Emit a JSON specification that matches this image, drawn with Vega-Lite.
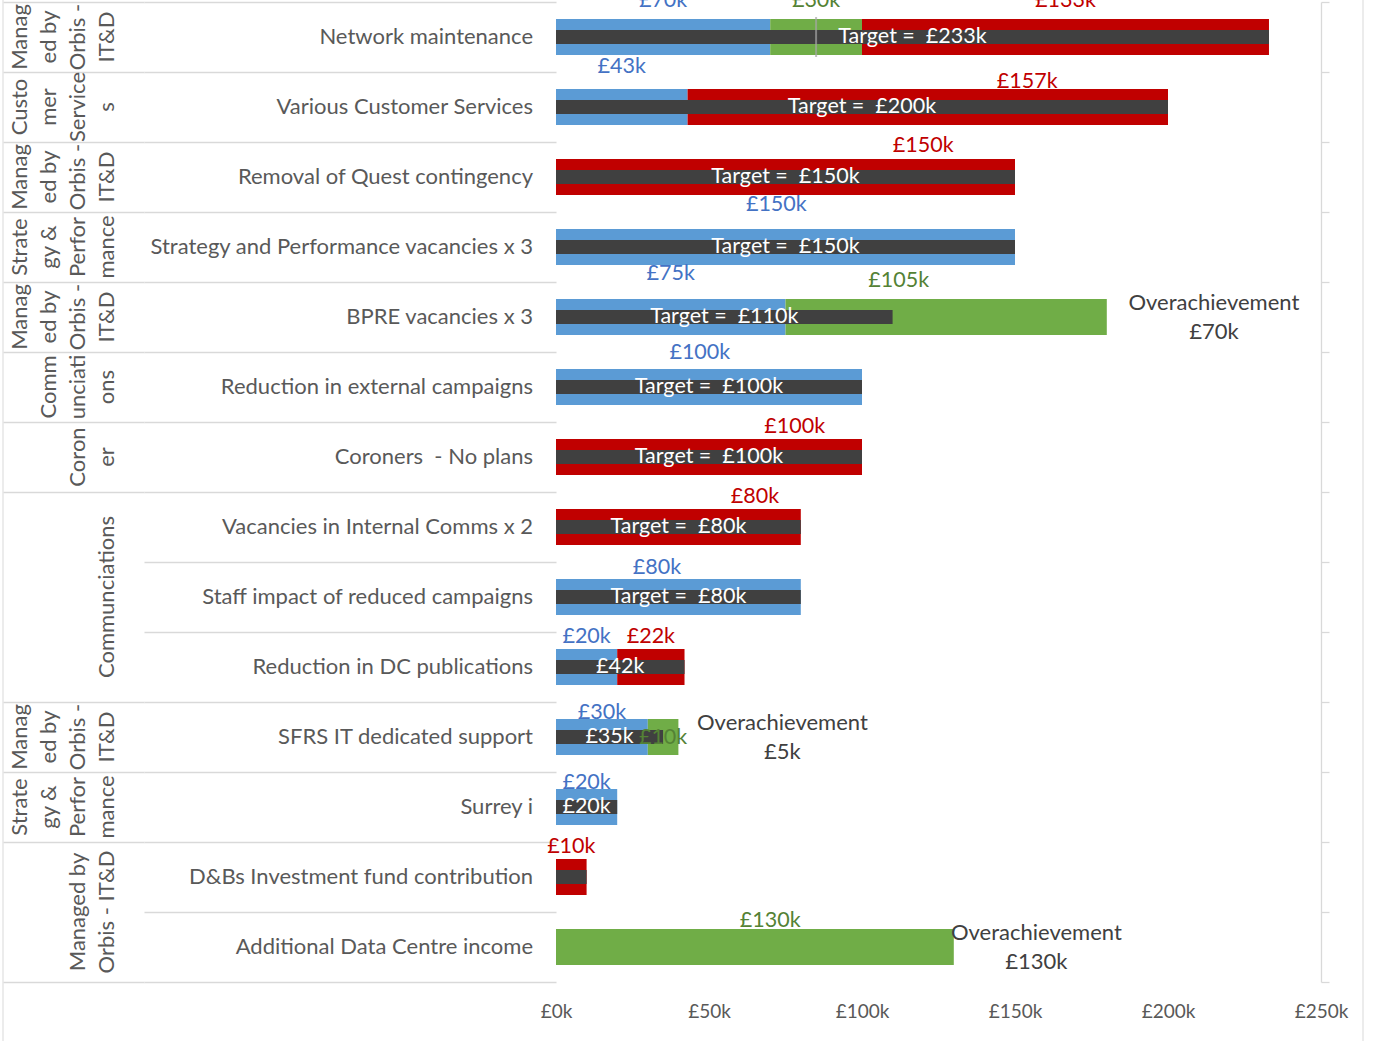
{
  "$schema": "https://vega.github.io/schema/vega-lite/v6.json",
  "autosize": {"type": "pad"},
  "padding": {"left": 2, "top": -19, "right": 0, "bottom": 0},
  "bounds": "flush",
  "spacing": 0,
  "background": "white",
  "datasets": {
    "items": [
      {"row": 1, "item": "Network maintenance", "gid": "g1", "glabel": "Manag\ned by\nOrbis -\nIT&D", "lines": 4},
      {"row": 2, "item": "Various Customer Services", "gid": "g2", "glabel": "Custo\nmer\nService\ns", "lines": 4},
      {"row": 3, "item": "Removal of Quest contingency", "gid": "g3", "glabel": "Manag\ned by\nOrbis -\nIT&D", "lines": 4},
      {"row": 4, "item": "Strategy and Performance vacancies x 3", "gid": "g4", "glabel": "Strate\ngy &\nPerfor\nmance", "lines": 4},
      {"row": 5, "item": "BPRE vacancies x 3", "gid": "g5", "glabel": "Manag\ned by\nOrbis -\nIT&D", "lines": 4},
      {"row": 6, "item": "Reduction in external campaigns", "gid": "g6", "glabel": "Comm\nunciati\nons", "lines": 3},
      {"row": 7, "item": "Coroners\u00a0 - No plans", "gid": "g7", "glabel": "Coron\ner", "lines": 2},
      {"row": 8, "item": "Vacancies in Internal Comms x 2", "gid": "g8", "glabel": "Communciations", "lines": 1},
      {"row": 9, "item": "Staff impact of reduced campaigns", "gid": "g8", "glabel": "Communciations", "lines": 1},
      {"row": 10, "item": "Reduction in DC publications", "gid": "g8", "glabel": "Communciations", "lines": 1},
      {"row": 11, "item": "SFRS IT dedicated support", "gid": "g9", "glabel": "Manag\ned by\nOrbis -\nIT&D", "lines": 4},
      {"row": 12, "item": "Surrey i", "gid": "g10", "glabel": "Strate\ngy &\nPerfor\nmance", "lines": 4},
      {"row": 13, "item": "D&Bs Investment fund contribution", "gid": "g11", "glabel": "Managed by\nOrbis - IT&D", "lines": 2},
      {"row": 14, "item": "Additional Data Centre income", "gid": "g11", "glabel": "Managed by\nOrbis - IT&D", "lines": 2}
    ],
    "segments": [
      {"row": 1, "series": "Achieved", "value": 70},
      {"row": 1, "series": "Exceeded", "value": 30},
      {"row": 1, "series": "Shortfall", "value": 133},
      {"row": 2, "series": "Achieved", "value": 43},
      {"row": 2, "series": "Shortfall", "value": 157},
      {"row": 3, "series": "Shortfall", "value": 150},
      {"row": 4, "series": "Achieved", "value": 150},
      {"row": 5, "series": "Achieved", "value": 75},
      {"row": 5, "series": "Exceeded", "value": 105},
      {"row": 6, "series": "Achieved", "value": 100},
      {"row": 7, "series": "Shortfall", "value": 100},
      {"row": 8, "series": "Shortfall", "value": 80},
      {"row": 9, "series": "Achieved", "value": 80},
      {"row": 10, "series": "Achieved", "value": 20},
      {"row": 10, "series": "Shortfall", "value": 22},
      {"row": 11, "series": "Achieved", "value": 30},
      {"row": 11, "series": "Exceeded", "value": 10},
      {"row": 12, "series": "Achieved", "value": 20},
      {"row": 13, "series": "Shortfall", "value": 10},
      {"row": 14, "series": "Exceeded", "value": 130}
    ],
    "targets": [
      {"row": 1, "target": 233, "text": "Target = \u00a0£233k"},
      {"row": 2, "target": 200, "text": "Target = \u00a0£200k"},
      {"row": 3, "target": 150, "text": "Target = \u00a0£150k"},
      {"row": 4, "target": 150, "text": "Target = \u00a0£150k"},
      {"row": 5, "target": 110, "text": "Target = \u00a0£110k"},
      {"row": 6, "target": 100, "text": "Target = \u00a0£100k"},
      {"row": 7, "target": 100, "text": "Target = \u00a0£100k"},
      {"row": 8, "target": 80, "text": "Target = \u00a0£80k"},
      {"row": 9, "target": 80, "text": "Target = \u00a0£80k"},
      {"row": 10, "target": 42, "text": "£42k"},
      {"row": 11, "target": 35, "text": "£35k"},
      {"row": 12, "target": 20, "text": "£20k"},
      {"row": 13, "target": 10, "text": ""}
    ],
    "marker": [
      {"row": 1, "value": 85}
    ],
    "labels": [
      {"row": 1, "series": "Achieved", "text": "£70k", "lx": 35, "ly": 0.49},
      {"row": 1, "series": "Exceeded", "text": "£30k", "lx": 85, "ly": 0.49},
      {"row": 1, "series": "Shortfall", "text": "£133k", "lx": 166.5, "ly": 0.49},
      {"row": 2, "series": "Achieved", "text": "£43k", "lx": 21.5, "ly": 1.43},
      {"row": 2, "series": "Shortfall", "text": "£157k", "lx": 154, "ly": 1.64},
      {"row": 3, "series": "Shortfall", "text": "£150k", "lx": 120, "ly": 2.56},
      {"row": 4, "series": "Achieved", "text": "£150k", "lx": 72, "ly": 3.4},
      {"row": 5, "series": "Achieved", "text": "£75k", "lx": 37.5, "ly": 4.39},
      {"row": 5, "series": "Exceeded", "text": "£105k", "lx": 112, "ly": 4.49},
      {"row": 6, "series": "Achieved", "text": "£100k", "lx": 47, "ly": 5.51},
      {"row": 7, "series": "Shortfall", "text": "£100k", "lx": 78, "ly": 6.57},
      {"row": 8, "series": "Shortfall", "text": "£80k", "lx": 65, "ly": 7.57},
      {"row": 9, "series": "Achieved", "text": "£80k", "lx": 33, "ly": 8.59},
      {"row": 10, "series": "Achieved", "text": "£20k", "lx": 10, "ly": 9.57},
      {"row": 10, "series": "Shortfall", "text": "£22k", "lx": 31, "ly": 9.57},
      {"row": 11, "series": "Achieved", "text": "£30k", "lx": 15, "ly": 10.66},
      {"row": 11, "series": "Exceeded", "text": "£10k", "lx": 35, "ly": 11.01},
      {"row": 12, "series": "Achieved", "text": "£20k", "lx": 10, "ly": 11.66},
      {"row": 13, "series": "Shortfall", "text": "£10k", "lx": 5, "ly": 12.57},
      {"row": 14, "series": "Exceeded", "text": "£130k", "lx": 70, "ly": 13.63}
    ],
    "notes": [
      {"row": 5, "text": "Overachievement\n£70k", "lx": 215},
      {"row": 11, "text": "Overachievement\n£5k", "lx": 74},
      {"row": 14, "text": "Overachievement\n£130k", "lx": 157}
    ]
  },
  "hconcat": [
    {
      "width": 141,
      "height": 980,
      "layer": [
        {
          "data": {"name": "items"},
          "mark": {"type": "text", "angle": 270, "align": "center", "baseline": "bottom", "fontSize": 22, "lineHeight": 29, "lineBreak": "\n", "color": "#595959"},
          "encoding": {
            "y": {
              "aggregate": "mean", "field": "row", "type": "quantitative",
              "scale": {"domain": [0.5, 14.5], "reverse": true, "nice": false, "zero": false, "padding": 0},
              "axis": {"values": [0.5, 1.5, 2.5, 3.5, 4.5, 5.5, 6.5, 7.5, 10.5, 11.5, 12.5, 14.5], "grid": true, "gridColor": "#D9D9D9", "gridWidth": 1.3, "labels": false, "ticks": false, "domain": false, "title": null}
            },
            "x": {"aggregate": "max", "field": "lines", "type": "quantitative", "scale": {"domain": [5, 0.13793], "nice": false, "zero": false}, "axis": null},
            "text": {"field": "glabel", "type": "nominal"},
            "detail": {"field": "gid", "type": "nominal"}
          }
        },
        {
          "data": {"values": [{"edge": "left"}]},
          "mark": {"type": "rule", "color": "#D9D9D9", "strokeWidth": 1},
          "encoding": {"x": {"value": 0}, "y": {"value": -20}, "y2": {"value": 1045}}
        }
      ]
    },
    {
      "width": 412,
      "height": 980,
      "data": {"name": "items"},
      "mark": {"type": "text", "align": "right", "baseline": "middle", "fontSize": 22, "color": "#595959"},
      "encoding": {
        "y": {
          "field": "row", "type": "quantitative",
          "scale": {"domain": [0.5, 14.5], "reverse": true, "nice": false, "zero": false, "padding": 0},
          "axis": {"values": [0.5, 1.5, 2.5, 3.5, 4.5, 5.5, 6.5, 7.5, 8.5, 9.5, 10.5, 11.5, 12.5, 13.5, 14.5], "grid": true, "gridColor": "#D9D9D9", "gridWidth": 1.3, "labels": false, "ticks": false, "domain": false, "title": null}
        },
        "x": {"value": 389},
        "text": {"field": "item", "type": "nominal"}
      }
    },
    {
      "width": 765,
      "height": 980,
      "encoding": {
        "y": {
          "field": "row", "type": "quantitative",
          "scale": {"domain": [0.5, 14.5], "reverse": true, "nice": false, "zero": false, "padding": 0},
          "axis": {"orient": "right", "values": [0.5, 1.5, 2.5, 3.5, 4.5, 5.5, 6.5, 7.5, 8.5, 9.5, 10.5, 11.5, 12.5, 13.5, 14.5], "labels": false, "ticks": true, "tickSize": 8, "tickColor": "#D9D9D9", "tickWidth": 1.3, "domain": true, "domainColor": "#D9D9D9", "domainWidth": 1.3, "grid": false, "title": null}
        }
      },
      "layer": [
        {
          "data": {"name": "segments"},
          "transform": [
            {"stack": "value", "groupby": ["row"], "sort": [{"field": "series", "order": "ascending"}], "as": ["x0", "x1"]}
          ],
          "mark": {"type": "bar", "orient": "horizontal", "size": 36},
          "encoding": {
            "x": {
              "field": "x0", "type": "quantitative",
              "scale": {"domain": [0, 250], "nice": false},
              "axis": {"values": [0, 50, 100, 150, 200, 250], "labelExpr": "'£' + datum.value + 'k'", "domain": false, "ticks": false, "grid": false, "labelFontSize": 19, "labelColor": "#595959", "labelPadding": 20, "labelFlush": false, "labelOverlap": false, "title": null}
            },
            "x2": {"field": "x1"},
            "color": {
              "field": "series", "type": "nominal",
              "scale": {"domain": ["Achieved", "Exceeded", "Shortfall"], "range": ["#5B9BD5", "#70AD47", "#C00000"]},
              "legend": null
            }
          }
        },
        {
          "data": {"name": "targets"},
          "mark": {"type": "bar", "orient": "horizontal", "size": 14, "color": "#404040"},
          "encoding": {
            "x": {"field": "target", "type": "quantitative", "scale": {"domain": [0, 250], "nice": false}, "axis": null}
          }
        },
        {
          "data": {"name": "marker"},
          "mark": {"type": "tick", "orient": "vertical", "size": 40, "thickness": 2, "color": "#A5A5A5"},
          "encoding": {
            "x": {"field": "value", "type": "quantitative", "scale": {"domain": [0, 250], "nice": false}, "axis": null}
          }
        },
        {
          "data": {"name": "targets"},
          "mark": {"type": "text", "align": "center", "baseline": "middle", "fontSize": 21.5, "color": "white"},
          "encoding": {
            "x": {"field": "target", "type": "quantitative", "scale": {"domain": [0, 500], "nice": false}, "axis": null},
            "text": {"field": "text", "type": "nominal"}
          }
        },
        {
          "data": {"name": "labels"},
          "mark": {"type": "text", "align": "center", "baseline": "middle", "fontSize": 21.5},
          "encoding": {
            "x": {"field": "lx", "type": "quantitative", "scale": {"domain": [0, 250], "nice": false}, "axis": null},
            "y": {"field": "ly", "type": "quantitative"},
            "text": {"field": "text", "type": "nominal"},
            "color": {
              "field": "series", "type": "nominal",
              "scale": {"domain": ["Achieved", "Exceeded", "Shortfall"], "range": ["#4472C4", "#548235", "#C00000"]},
              "legend": null
            }
          }
        },
        {
          "data": {"name": "notes"},
          "mark": {"type": "text", "align": "center", "baseline": "middle", "fontSize": 22, "lineHeight": 29, "lineBreak": "\n", "dy": -14.5, "color": "#404040"},
          "encoding": {
            "x": {"field": "lx", "type": "quantitative", "scale": {"domain": [0, 250], "nice": false}, "axis": null},
            "text": {"field": "text", "type": "nominal"}
          }
        },
        {
          "data": {"values": [{"edge": "right"}]},
          "mark": {"type": "rule", "color": "#D9D9D9", "strokeWidth": 1},
          "encoding": {"x": {"value": 807}, "y": {"value": -20}, "y2": {"value": 1045}}
        }
      ],
      "resolve": {"scale": {"x": "independent", "color": "independent"}}
    }
  ],
  "config": {
    "view": {"stroke": null},
    "font": "Lato",
    "axis": {"labelFont": "Lato", "titleFont": "Lato"},
    "text": {"font": "Lato"}
  }
}
